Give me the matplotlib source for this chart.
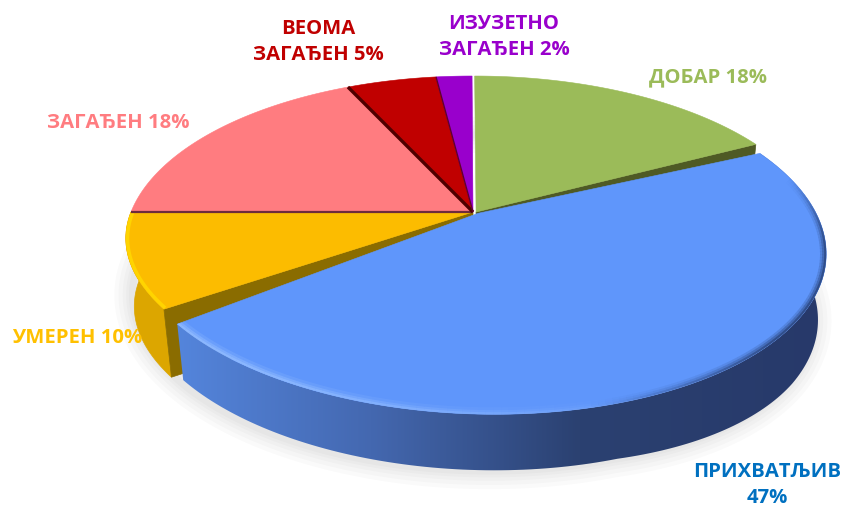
import matplotlib
matplotlib.use("Agg")
import matplotlib.pyplot as plt
import numpy as np
from matplotlib.collections import LineCollection
from matplotlib.colors import LinearSegmentedColormap, to_rgb
from matplotlib.patches import Polygon

plt.rcParams["font.family"] = ["Open Sans", "DejaVu Sans"]

categories = ["ДОБАР", "ПРИХВАТЉИВ", "УМЕРЕН", "ЗАГАЂЕН", "ВЕОМА ЗАГАЂЕН", "ИЗУЗЕТНО ЗАГАЂЕН"]
values = [17.5, 47.49, 10.01, 18, 5, 2]

top_colors = ["#9bbb59", "#5f96fb", "#fcbc00", "#ff7c80", "#c00000", "#9900cc"]
label_colors = ["#9bbb59", "#0070c0", "#ffc000", "#ff7c80", "#c00000", "#9900cc"]
label_texts = ["ДОБАР 18%", "ПРИХВАТЉИВ\n47%", "УМЕРЕН 10%", "ЗАГАЂЕН 18%", "ВЕОМА\nЗАГАЂЕН 5%", "ИЗУЗЕТНО\nЗАГАЂЕН 2%"]
label_pos = [(708, 77), (767, 485), (77, 338), (118, 123), (318, 42), (504, 37)]

# offsets on the unit disc, only green and blue are pulled out
explode = {0: (0.009, 0.0), 1: (0.012, -0.008)}
DEPTH = 56
YELLOW_DEPTH = 68
BLUE_TILT = np.deg2rad(1.6)
BLUE_TRIM = 0.07
YELLOW_LEAD = 0.06


def project(u, v):
    # unit disc to pixels, with perspective so the apex sits above ellipse centre
    w = 1 + 0.1905 * v
    return (473 + 342 * u + 89 * v) / w, (212 - 121.5 * v) / w


def drop(x, y, d=DEPTH):
    # same point moved down onto the bottom face
    return 475 + (x - 475) * (1 - 0.02 * d / DEPTH), y + d


def tilt(i, x, y):
    # the pulled out blue slice leans a little, left up and right down
    # the yellow one pulls in towards its lower corner
    if i == 2:
        return x + 0.0012 * np.maximum(y - 212, 0) ** 2, y
    if i != 1:
        return x, y
    dx, dy = x - 475, y - 244
    c, s = np.cos(BLUE_TILT), np.sin(BLUE_TILT)
    return 475 + c * dx - s * dy, 244 + s * dx + c * dy


def arc(i, trim=0.0, lead=0.0):
    edges = np.cumsum([0] + values) / sum(values) * 2 * np.pi
    t = np.linspace(edges[i] + lead, edges[i + 1] - trim, 160)
    dx, dy = explode.get(i, (0, 0))
    x, y = project(np.sin(t) + dx, np.cos(t) + dy)
    return tilt(i, x, y)


def apex(i):
    dx, dy = explode.get(i, (0, 0))
    x, y = project(dx, dy)
    return tilt(i, x, y)


def top_poly(i, trim=0.0, lead=0.0):
    x, y = arc(i, trim, lead)
    px, py = apex(i)
    return np.column_stack([np.r_[px, x], np.r_[py, y]])


def rim_poly(i, trim=0.0, lead=0.0, d=DEPTH):
    x, y = arc(i, trim, lead)
    # the side looks a bit deeper towards the right
    xb, yb = drop(x, y, d + 10 * np.clip((x - 620) / 180, 0, 1))
    return np.column_stack([np.r_[x, xb[::-1]], np.r_[y, yb[::-1]]])


def wall_poly(i, at_end, lead=0.0, d=DEPTH):
    x, y = arc(i, 0.0, lead)
    k = -1 if at_end else 0
    px, py = apex(i)
    xb, yb = drop(np.array([x[k], px]), np.array([y[k], py]), d)
    return np.column_stack([[x[k], px, xb[1], xb[0]], [y[k], py, yb[1], yb[0]]])


def fade_line(ax, x, y, color, alpha, lw, clip, **kw):
    pts = np.column_stack([x, y])
    segs = np.stack([pts[:-1], pts[1:]], axis=1)
    rgba = np.zeros((len(segs), 4))
    rgba[:, :3] = to_rgb(color)
    rgba[:, 3] = alpha[:-1]
    lc = LineCollection(segs, colors=rgba, linewidths=lw, capstyle="butt", **kw)
    ax.add_collection(lc)
    lc.set_clip_path(clip)


fig = plt.figure(figsize=(8.42, 5.08), dpi=100)
ax = fig.add_axes([0, 0, 1, 1])
ax.set_xlim(0, 842)
ax.set_ylim(508, 0)
ax.axis("off")

# soft shadow under the body
t = np.linspace(0, 2 * np.pi, 400)
sx, sy = project(np.sin(t), np.cos(t))
sx, sy = drop(sx, sy, DEPTH + 10 * np.clip((sx - 620) / 180, 0, 1))
sx, sy = tilt(1, sx, sy)
for lw in [26, 20, 14, 9, 5]:
    ax.add_patch(Polygon(np.column_stack([sx + 2, sy + 3]), closed=True, fc="none",
                         ec=(0, 0, 0, 0.02), lw=lw, joinstyle="round"))

# yellow side and cut face
ax.add_patch(Polygon(rim_poly(2, 0.0, YELLOW_LEAD, YELLOW_DEPTH), closed=True, fc="#dca600", ec="#dca600", lw=0.5))
ax.add_patch(Polygon(wall_poly(2, False, YELLOW_LEAD, YELLOW_DEPTH), closed=True, fc="#8a6c00", ec="#8a6c00", lw=0.5))

tops = {}
for i in [2, 3, 4, 5]:
    lead = YELLOW_LEAD if i == 2 else 0.0
    tops[i] = Polygon(top_poly(i, 0.0, lead), closed=True, fc=top_colors[i], ec=top_colors[i], lw=0.4)
    ax.add_patch(tops[i])

# yellow bevel
yx, yy = arc(2, 0.0, YELLOW_LEAD)
bevel, = ax.plot(yx, yy, color="#ffd400", lw=5, solid_capstyle="butt")
bevel.set_clip_path(tops[2])

# dark seams between the back slices
for i, col, lw in [(3, "#6e2b3c", 1.6), (4, "#4f0000", 2.4), (5, "#600030", 1.0)]:
    x, y = arc(i)
    px, py = apex(i)
    ax.plot([x[0], px], [y[0], py], color=col, lw=lw, solid_capstyle="butt")

# green slice
ax.add_patch(Polygon(wall_poly(0, True), closed=True, fc="#4f5a25", ec="#4f5a25", lw=0.5))
ax.add_patch(Polygon(top_poly(0), closed=True, fc=top_colors[0], ec=top_colors[0], lw=0.4))

# blue side: gradient clipped to the rim, with the cut end straight down
rim = Polygon(rim_poly(1, BLUE_TRIM), closed=True, fc="none", ec="none")
ax.add_patch(rim)
blue_cmap = LinearSegmentedColormap.from_list(
    "blue_rim", [(0, "#5485dc"), (0.3, "#4468b0"), (0.62, "#2b4171"), (1, "#27396a")])
im = ax.imshow(np.linspace(0, 1, 256)[None, :], extent=[176, 826, 490, 150], aspect="auto",
               cmap=blue_cmap, zorder=2)
im.set_clip_path(rim)
ax.set_xlim(0, 842)
ax.set_ylim(508, 0)

blue_top = Polygon(top_poly(1, BLUE_TRIM), closed=True, fc=top_colors[1], ec=top_colors[1], lw=0.4, zorder=3)
ax.add_patch(blue_top)

# bevels along the blue edge: light on the left, dark blur on the right
bx, by = arc(1, BLUE_TRIM)
s = np.linspace(0, 1, len(bx))
dark = np.clip((s - 0.06) / 0.14, 0, 1) * np.clip((0.6 - s) / 0.2, 0, 1)
light = np.clip((s - 0.55) / 0.35, 0, 1)
for lw, k in [(9, 0.18), (6, 0.3), (3, 0.5)]:
    fade_line(ax, bx, by, "#1f3360", dark * k, lw, blue_top, zorder=4)
for lw, k in [(10, 0.25), (6, 0.5), (3, 0.8)]:
    fade_line(ax, bx, by, "#8fbaff", light * k, lw, blue_top, zorder=4)

for txt, col, (lx, ly) in zip(label_texts, label_colors, label_pos):
    ax.text(lx, ly, txt, color=col, fontsize=14.6, fontweight="bold", ha="center", va="center",
            linespacing=1.4, zorder=5)

fig.savefig("out.png", dpi=100)
